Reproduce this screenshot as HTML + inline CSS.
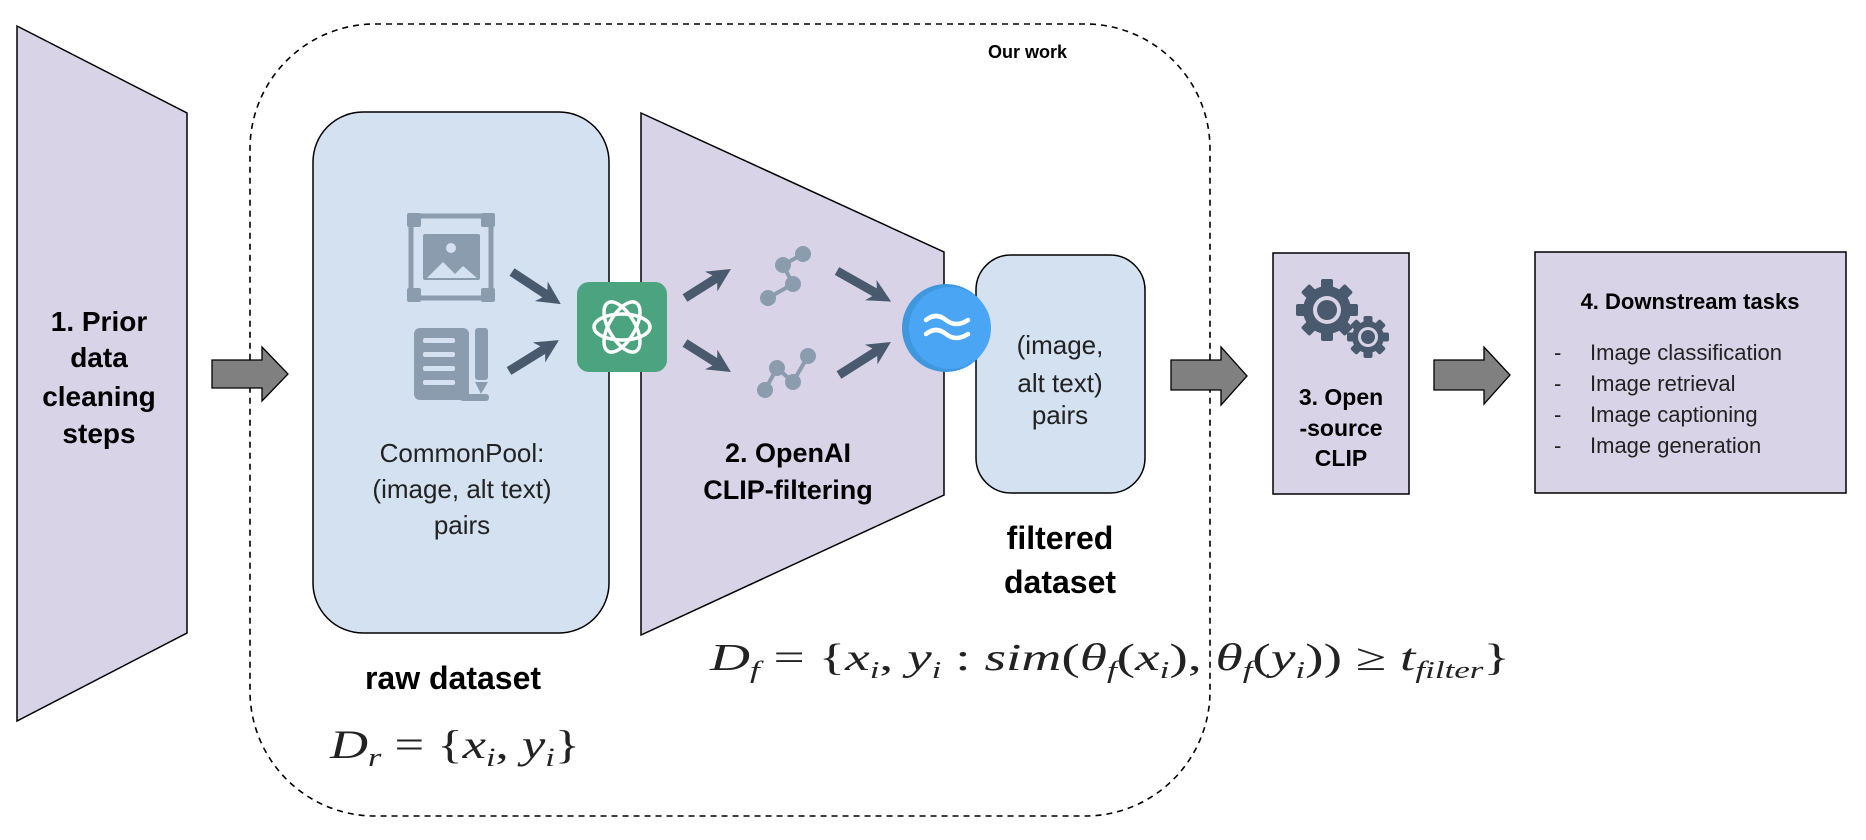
<!DOCTYPE html>
<html><head><meta charset="utf-8"><style>
html,body{margin:0;padding:0;background:#fff;}
svg{display:block;}
.b{font-family:"Liberation Sans",sans-serif;font-weight:bold;fill:#000;}
.l{font-family:"Liberation Sans",sans-serif;fill:#222;}
.m{font-family:"Liberation Serif",serif;font-style:italic;fill:#222;}
</style></head><body>
<svg width="1866" height="840" viewBox="0 0 1866 840" xmlns="http://www.w3.org/2000/svg">
<defs>
<marker id="ah" viewBox="0 0 10 10" refX="6" refY="5" markerWidth="2.6" markerHeight="2.6" orient="auto"><path d="M0,0 L10,5 L0,10 L3,5 z" fill="#4a5a6e"/></marker>
</defs>
<rect x="250" y="24" width="960" height="792" rx="125" fill="none" stroke="#000" stroke-width="1.6" stroke-dasharray="6,5"/>
<polygon points="17,26 187,113 187,633 17,721" fill="#d8d3e6" stroke="#000" stroke-width="1.5"/>
<text class="b" font-size="28" text-anchor="middle"><tspan x="99" y="331">1. Prior</tspan><tspan x="99" y="367">data</tspan><tspan x="99" y="406">cleaning</tspan><tspan x="99" y="443">steps</tspan></text>
<polygon points="212,360 262,360 262,347 288,374 262,401 262,388 212,388" fill="#808080" stroke="#000" stroke-width="1.3"/>
<polygon points="1171,360 1221,360 1221,347 1247,376 1221,405 1221,390 1171,390" fill="#808080" stroke="#000" stroke-width="1.3"/>
<polygon points="1434,360 1484,360 1484,347 1510,375 1484,404 1484,390 1434,390" fill="#808080" stroke="#000" stroke-width="1.3"/>
<rect x="313" y="112" width="296" height="521" rx="50" fill="#d4e1f0" stroke="#000" stroke-width="1.5"/>
<g fill="#8b9caf">
<rect x="411" y="216" width="80" height="82" fill="none" stroke="#8b9caf" stroke-width="5"/>
<rect x="407" y="213" width="14" height="14" rx="2"/><rect x="481" y="213" width="14" height="14" rx="2"/>
<rect x="407" y="288" width="14" height="14" rx="2"/><rect x="481" y="288" width="14" height="14" rx="2"/>
<rect x="423" y="234" width="57" height="46" rx="2"/>
<polygon points="427,278 443,262 455,274 463,266 477,278" fill="#d4e1f0"/>
<circle cx="451" cy="248" r="5" fill="#d4e1f0"/>
<rect x="414" y="328" width="55" height="72" rx="6"/>
<rect x="423" y="338" width="32" height="5" rx="2" fill="#d4e1f0"/>
<rect x="423" y="352" width="32" height="5" rx="2" fill="#d4e1f0"/>
<rect x="423" y="366" width="32" height="5" rx="2" fill="#d4e1f0"/>
<rect x="423" y="380" width="32" height="5" rx="2" fill="#d4e1f0"/>
<rect x="475" y="328" width="13" height="52" rx="3"/>
<polygon points="475,382 488,382 481,394"/>
<rect x="460" y="394" width="29" height="7" rx="3"/>
</g>
<g stroke="#4a5a6e" stroke-width="9" marker-end="url(#ah)" fill="none">
<line x1="512" y1="272" x2="553" y2="299"/>
<line x1="509" y1="371" x2="551" y2="345"/>
</g>
<polygon points="641,113 944,252 944,495 641,635" fill="#d8d3e6" stroke="#000" stroke-width="1.5"/>
<g stroke="#4a5a6e" stroke-width="9" marker-end="url(#ah)" fill="none">
<line x1="685" y1="298" x2="723" y2="274"/>
<line x1="685" y1="343" x2="723" y2="367"/>
<line x1="837" y1="271" x2="883" y2="297"/>
<line x1="839" y1="375" x2="883" y2="347"/>
</g>
<g fill="#8b9caf" stroke="#8b9caf" stroke-width="4">
<polyline points="768,298 793,284 783,265 803,254" fill="none"/>
<circle cx="768" cy="298" r="6"/><circle cx="793" cy="284" r="6"/><circle cx="783" cy="265" r="6"/><circle cx="803" cy="254" r="6"/>
<polyline points="765,390 777,368 793,382 808,356" fill="none"/>
<circle cx="765" cy="390" r="6"/><circle cx="777" cy="368" r="6"/><circle cx="793" cy="382" r="6"/><circle cx="808" cy="356" r="6"/>
</g>
<text class="b" font-size="27" text-anchor="middle"><tspan x="788" y="462">2. OpenAI</tspan><tspan x="788" y="499">CLIP-filtering</tspan></text>
<rect x="577" y="282" width="90" height="90" rx="12" fill="#4ca37f"/>
<g fill="none" stroke="#fff" stroke-width="3.5">
<ellipse cx="622" cy="327" rx="28" ry="13"/>
<ellipse cx="622" cy="327" rx="28" ry="13" transform="rotate(60 622 327)"/>
<ellipse cx="622" cy="327" rx="28" ry="13" transform="rotate(120 622 327)"/>
</g>
<rect x="976" y="255" width="169" height="238" rx="35" fill="#d4e1f0" stroke="#000" stroke-width="1.5"/>
<circle cx="946" cy="328" r="44" fill="#3f97de"/>
<circle cx="950" cy="328" r="41" fill="#4aa6f5"/>
<path d="M926,320 q10,-8 20,0 t22,0 M926,334 q10,-8 20,0 t22,0" fill="none" stroke="#fff" stroke-width="4.5" stroke-linecap="round"/>
<text class="l" font-size="26" text-anchor="middle"><tspan x="1060" y="354">(image,</tspan><tspan x="1060" y="392">alt text)</tspan><tspan x="1060" y="424">pairs</tspan></text>
<text class="b" font-size="32" text-anchor="middle"><tspan x="1060" y="549">filtered</tspan><tspan x="1060" y="593">dataset</tspan></text>
<text class="l" font-size="26" text-anchor="middle"><tspan x="462" y="462">CommonPool:</tspan><tspan x="462" y="498">(image, alt text)</tspan><tspan x="462" y="534">pairs</tspan></text>
<text class="b" font-size="32" text-anchor="middle" x="453" y="689">raw dataset</text>
<text class="b" font-size="18" x="988" y="58">Our work</text>
<text class="m" font-size="40" x="330" y="758" textLength="250" lengthAdjust="spacingAndGlyphs">D<tspan font-size="26" dy="8">r</tspan><tspan dy="-8" font-style="normal"> = {</tspan>x<tspan font-size="26" dy="8">i</tspan><tspan dy="-8" font-style="normal">, </tspan>y<tspan font-size="26" dy="8">i</tspan><tspan dy="-8" font-style="normal">}</tspan></text>
<text class="m" font-size="38" x="710" y="670" textLength="800" lengthAdjust="spacingAndGlyphs">D<tspan font-size="24" dy="8">f</tspan><tspan dy="-8" font-style="normal"> = {</tspan>x<tspan font-size="24" dy="8">i</tspan><tspan dy="-8" font-style="normal">, </tspan>y<tspan font-size="24" dy="8">i</tspan><tspan dy="-8" font-style="normal"> : </tspan>sim<tspan font-style="normal">(</tspan>θ<tspan font-size="24" dy="8">f</tspan><tspan dy="-8" font-style="normal">(</tspan>x<tspan font-size="24" dy="8">i</tspan><tspan dy="-8" font-style="normal">), </tspan>θ<tspan font-size="24" dy="8">f</tspan><tspan dy="-8" font-style="normal">(</tspan>y<tspan font-size="24" dy="8">i</tspan><tspan dy="-8" font-style="normal">)) ≥ </tspan>t<tspan font-size="24" dy="8">filter</tspan><tspan dy="-8" font-style="normal">}</tspan></text>
<rect x="1273" y="253" width="136" height="241" fill="#d8d3e6" stroke="#000" stroke-width="1.5"/>
<g fill="#4a5a6e">
<g transform="translate(1327 310)">
<circle r="24"/>
<rect x="-6" y="-31" width="12" height="62" rx="2"/>
<rect x="-6" y="-31" width="12" height="62" rx="2" transform="rotate(45)"/>
<rect x="-6" y="-31" width="12" height="62" rx="2" transform="rotate(90)"/>
<rect x="-6" y="-31" width="12" height="62" rx="2" transform="rotate(135)"/>
<circle r="14" fill="#d8d3e6"/><circle r="10"/>
</g>
<g transform="translate(1368 337)">
<circle r="16"/>
<rect x="-4.5" y="-21" width="9" height="42" rx="2"/>
<rect x="-4.5" y="-21" width="9" height="42" rx="2" transform="rotate(45)"/>
<rect x="-4.5" y="-21" width="9" height="42" rx="2" transform="rotate(90)"/>
<rect x="-4.5" y="-21" width="9" height="42" rx="2" transform="rotate(135)"/>
<circle r="10" fill="#d8d3e6"/><circle r="7"/>
</g>
</g>
<text class="b" font-size="23" text-anchor="middle"><tspan x="1341" y="405">3. Open</tspan><tspan x="1341" y="436">-source</tspan><tspan x="1341" y="466">CLIP</tspan></text>
<rect x="1535" y="252" width="311" height="241" fill="#d8d3e6" stroke="#000" stroke-width="1.5"/>
<text class="b" font-size="22" text-anchor="middle" x="1690" y="309">4. Downstream tasks</text>
<g class="l" font-size="22">
<text x="1554" y="360">-</text><text x="1590" y="360">Image classification</text>
<text x="1554" y="391">-</text><text x="1590" y="391">Image retrieval</text>
<text x="1554" y="422">-</text><text x="1590" y="422">Image captioning</text>
<text x="1554" y="453">-</text><text x="1590" y="453">Image generation</text>
</g>
</svg>
</body></html>
